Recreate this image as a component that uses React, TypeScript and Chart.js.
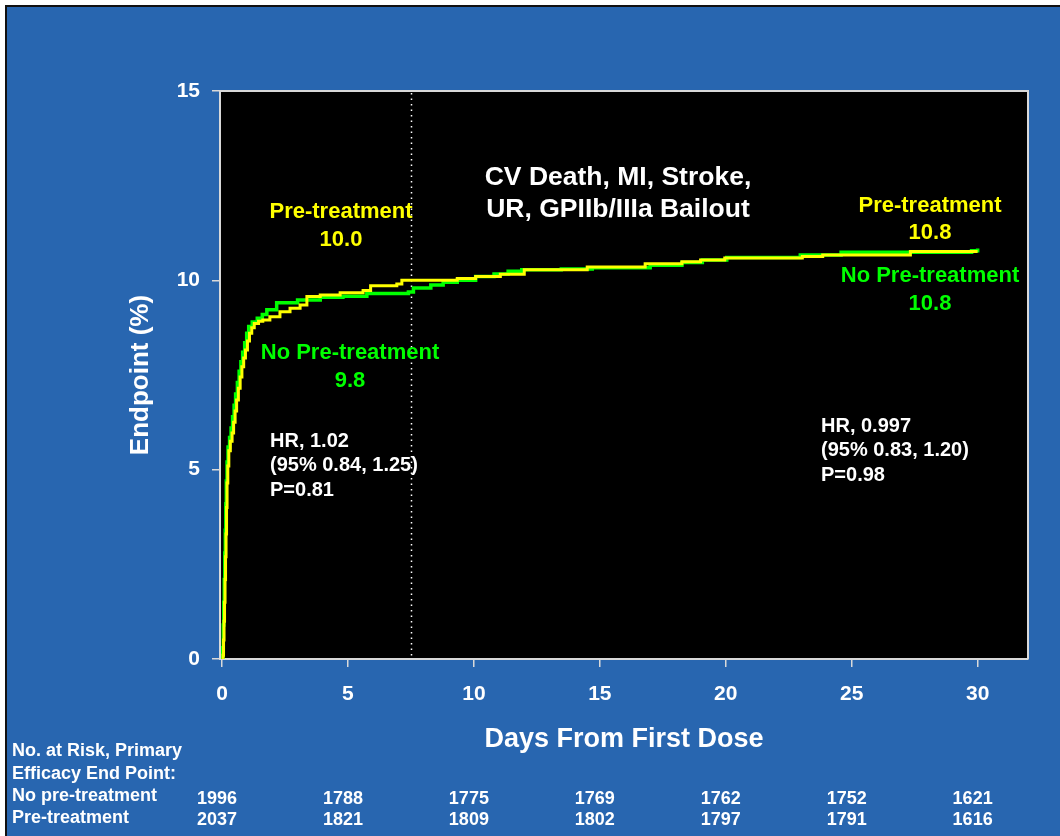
import React, { useEffect, useRef } from "react";
import { Chart, registerables } from "chart.js";

Chart.register(...registerables);

// ---------- data ----------
const xTickValues = [0, 5, 10, 15, 20, 25, 30];
const yTickValues = [0, 5, 10, 15];

// Pre-treatment (yellow) Kaplan-Meier estimate, % with endpoint
const preDays = [
  0, 0.04, 0.06, 0.08, 0.1, 0.12, 0.14, 0.16, 0.18, 0.2, 0.23, 0.27, 0.33, 0.4, 0.46, 0.52,
  0.58, 0.65, 0.72, 0.79, 0.86, 0.93, 1.01, 1.09, 1.18, 1.28, 1.45, 1.62, 1.9, 2.3, 2.7, 3.1,
  3.37, 3.9, 4.69, 5.6, 5.9, 6.94, 7.14, 9.34, 10.07, 11.05, 12.0, 14.5, 16.8, 18.26, 19.0, 19.96,
  23.04, 23.85, 27.33, 30.0,
];
const prePct = [
  0, 0.1, 0.5, 1.0, 1.5, 2.1, 2.7, 3.3, 4.0, 4.65, 5.1, 5.5, 5.75, 5.97, 6.25, 6.55,
  6.84, 7.15, 7.45, 7.72, 7.95, 8.16, 8.4, 8.6, 8.75, 8.86, 8.92, 8.95, 9.04, 9.17, 9.26, 9.35,
  9.57, 9.61, 9.67, 9.73, 9.86, 9.9, 10.0, 10.05, 10.1, 10.16, 10.28, 10.35, 10.44, 10.49, 10.54, 10.59,
  10.63, 10.67, 10.76, 10.76,
];

// No pre-treatment (green)
const noDays = [
  0, 0.03, 0.05, 0.07, 0.09, 0.11, 0.13, 0.15, 0.17, 0.2, 0.24, 0.3, 0.36, 0.42, 0.48, 0.54,
  0.61, 0.68, 0.75, 0.82, 0.9, 0.98, 1.06, 1.2, 1.4, 1.6, 1.78, 2.17, 3.0, 3.9, 4.8, 5.75,
  7.4, 7.6, 8.29, 8.78, 9.34, 10.07, 10.8, 11.36, 11.9, 13.47, 14.7, 17.0, 18.26, 19.07, 20.04, 22.96,
  24.58, 29.76, 30.0,
];
const noPct = [
  0, 0.3, 0.9, 1.5, 2.1, 2.8, 3.4, 4.1, 4.7, 5.2, 5.6, 5.85, 6.1, 6.4, 6.7, 7.0,
  7.3, 7.6, 7.85, 8.1, 8.35, 8.6, 8.78, 8.9, 9.0, 9.1, 9.22, 9.41, 9.48, 9.55, 9.58, 9.65,
  9.69, 9.8, 9.88, 9.95, 10.0, 10.1, 10.17, 10.24, 10.28, 10.3, 10.33, 10.4, 10.47, 10.54, 10.6, 10.67,
  10.74, 10.78, 10.84,
];

const riskDays = [0, 5, 10, 15, 20, 25, 30];
const riskNoPre = [1996, 1788, 1775, 1769, 1762, 1752, 1621];
const riskPre = [2037, 1821, 1809, 1802, 1797, 1791, 1616];
const riskRowLabels = ["No. at Risk, Primary", "Efficacy End Point:", "No pre-treatment", "Pre-treatment"];

const titleLines = ["CV Death, MI, Stroke,", "UR, GPIIb/IIIa Bailout"];
const hrLeft = ["HR, 1.02", "(95% 0.84, 1.25)", "P=0.81"];
const hrRight = ["HR, 0.997", "(95% 0.83, 1.20)", "P=0.98"];
const landmarkDay = 7.5;

// ---------- styles ----------
const FONT = "'Liberation Sans', Arial, Helvetica, sans-serif";
const BLUE = "#2866B0";
const YELLOW = "#FFFF00";
const GREEN = "#00FF00";
const AXIS = "#D9D9D9";

function txt(ctx: CanvasRenderingContext2D, s: string, x: number, y: number, color: string, size: number, align: CanvasTextAlign = "center") {
  ctx.font = `bold ${size}px ${FONT}`;
  ctx.fillStyle = color;
  ctx.textAlign = align;
  ctx.textBaseline = "middle";
  ctx.fillText(s, x, y);
}

const decoPlugin = {
  id: "deco",
  beforeDraw(chart: any) {
    const { ctx, width, height, chartArea: a } = chart;
    ctx.save();
    ctx.fillStyle = "#ffffff";
    ctx.fillRect(0, 0, width, height);
    ctx.fillStyle = "#111111";
    ctx.fillRect(5, 5, width, height);
    ctx.fillStyle = BLUE;
    ctx.fillRect(7, 7, width, height);
    ctx.fillStyle = "#000000";
    ctx.fillRect(a.left, a.top, a.right - a.left, a.bottom - a.top);
    ctx.restore();
  },
  beforeDatasetsDraw(chart: any) {
    const { ctx, chartArea: a, scales } = chart;
    const x = Math.round(scales.x.getPixelForValue(landmarkDay)) + 0.5;
    ctx.save();
    ctx.strokeStyle = "#ffffff";
    ctx.lineWidth = 1.5;
    ctx.setLineDash([1.5, 4]);
    ctx.beginPath();
    ctx.moveTo(x, a.top + 2);
    ctx.lineTo(x, a.bottom);
    ctx.stroke();
    ctx.restore();
  },
  afterDraw(chart: any) {
    const { ctx, chartArea: a, scales } = chart;
    ctx.save();
    // frame of plot area
    ctx.strokeStyle = AXIS;
    ctx.lineWidth = 2;
    ctx.beginPath();
    ctx.moveTo(a.left, a.top);
    ctx.lineTo(a.right, a.top);
    ctx.lineTo(a.right, a.bottom);
    ctx.stroke();

    // in-plot annotations
    txt(ctx, titleLines[0], 618, 178, "#ffffff", 26.5);
    txt(ctx, titleLines[1], 618, 210, "#ffffff", 26.5);

    txt(ctx, "Pre-treatment", 341, 212, YELLOW, 22);
    txt(ctx, "10.0", 341, 240, YELLOW, 22);
    txt(ctx, "No Pre-treatment", 350, 353, GREEN, 22);
    txt(ctx, "9.8", 350, 381, GREEN, 22);

    txt(ctx, "Pre-treatment", 930, 206, YELLOW, 22);
    txt(ctx, "10.8", 930, 233, YELLOW, 22);
    txt(ctx, "No Pre-treatment", 930, 276, GREEN, 22);
    txt(ctx, "10.8", 930, 304, GREEN, 22);

    hrLeft.forEach((s, i) => txt(ctx, s, 270, 441 + i * 24.5, "#ffffff", 20, "left"));
    hrRight.forEach((s, i) => txt(ctx, s, 821, 426 + i * 24.5, "#ffffff", 20, "left"));

    // number at risk table
    const rowY = [751, 774, 796, 818];
    riskRowLabels.forEach((s, i) => txt(ctx, s, 12, rowY[i], "#ffffff", 18, "left"));
    riskDays.forEach((d, i) => {
      const x = scales.x.getPixelForValue(d) - 5;
      txt(ctx, String(riskNoPre[i]), x, 799, "#ffffff", 18);
      txt(ctx, String(riskPre[i]), x, 820.5, "#ffffff", 18);
    });
    ctx.restore();
  },
};

export default function App() {
  const ref = useRef<HTMLCanvasElement | null>(null);

  useEffect(() => {
    if (!ref.current) return;
    const pre = preDays.map((d, i) => ({ x: d, y: prePct[i] }));
    const no = noDays.map((d, i) => ({ x: d, y: noPct[i] }));

    const chart = new Chart(ref.current, {
      type: "line",
      data: {
        datasets: [
          {
            label: "Pre-treatment",
            data: pre,
            borderColor: YELLOW,
            borderWidth: 3,
            stepped: true,
            pointRadius: 0,
            fill: false,
            order: 0,
          },
          {
            label: "No Pre-treatment",
            data: no,
            borderColor: GREEN,
            borderWidth: 3.5,
            stepped: true,
            pointRadius: 0,
            fill: false,
            order: 1,
          },
        ],
      },
      options: {
        responsive: false,
        animation: false,
        devicePixelRatio: 1,
        events: [],
        layout: { padding: { top: 91, right: 32, left: 0, bottom: 0 } },
        plugins: {
          legend: { display: false },
          tooltip: { enabled: false },
          title: { display: false },
        },
        scales: {
          x: {
            type: "linear",
            min: -0.08,
            max: 32,
            afterFit: (s: any) => {
              s.height = 177;
            },
            afterBuildTicks: (s: any) => {
              s.ticks = xTickValues.map((v) => ({ value: v }));
            },
            grid: {
              display: true,
              drawOnChartArea: false,
              drawTicks: true,
              tickLength: 8,
              color: AXIS,
              lineWidth: 1.5,
            },
            border: { display: true, color: AXIS, width: 2 },
            ticks: {
              color: "#ffffff",
              font: { family: FONT, size: 21, weight: "bold" },
              padding: 15,
              maxRotation: 0,
              autoSkip: false,
            },
            title: {
              display: true,
              text: "Days From First Dose",
              color: "#ffffff",
              font: { family: FONT, size: 27, weight: "bold" },
              padding: { top: 0, bottom: 80 },
            },
          },
          y: {
            type: "linear",
            min: 0,
            max: 15,
            afterFit: (s: any) => {
              s.width = 220;
            },
            afterBuildTicks: (s: any) => {
              s.ticks = yTickValues.map((v) => ({ value: v }));
            },
            grid: {
              display: true,
              drawOnChartArea: false,
              drawTicks: true,
              tickLength: 8,
              color: AXIS,
              lineWidth: 1.5,
            },
            border: { display: true, color: AXIS, width: 2 },
            ticks: {
              color: "#ffffff",
              font: { family: FONT, size: 21, weight: "bold" },
              padding: 12,
              autoSkip: false,
            },
            title: {
              display: true,
              text: "Endpoint (%)",
              color: "#ffffff",
              font: { family: FONT, size: 26, weight: "bold" },
              padding: { top: 125, bottom: 0 },
            },
          },
        },
      },
      plugins: [decoPlugin],
    } as any);

    return () => chart.destroy();
  }, []);

  return (
    <div style={{ position: "fixed", left: 0, top: 0, width: 1060, height: 836, overflow: "hidden" }}>
      <canvas ref={ref} width={1060} height={836} style={{ display: "block", width: 1060, height: 836 }} />
    </div>
  );
}
